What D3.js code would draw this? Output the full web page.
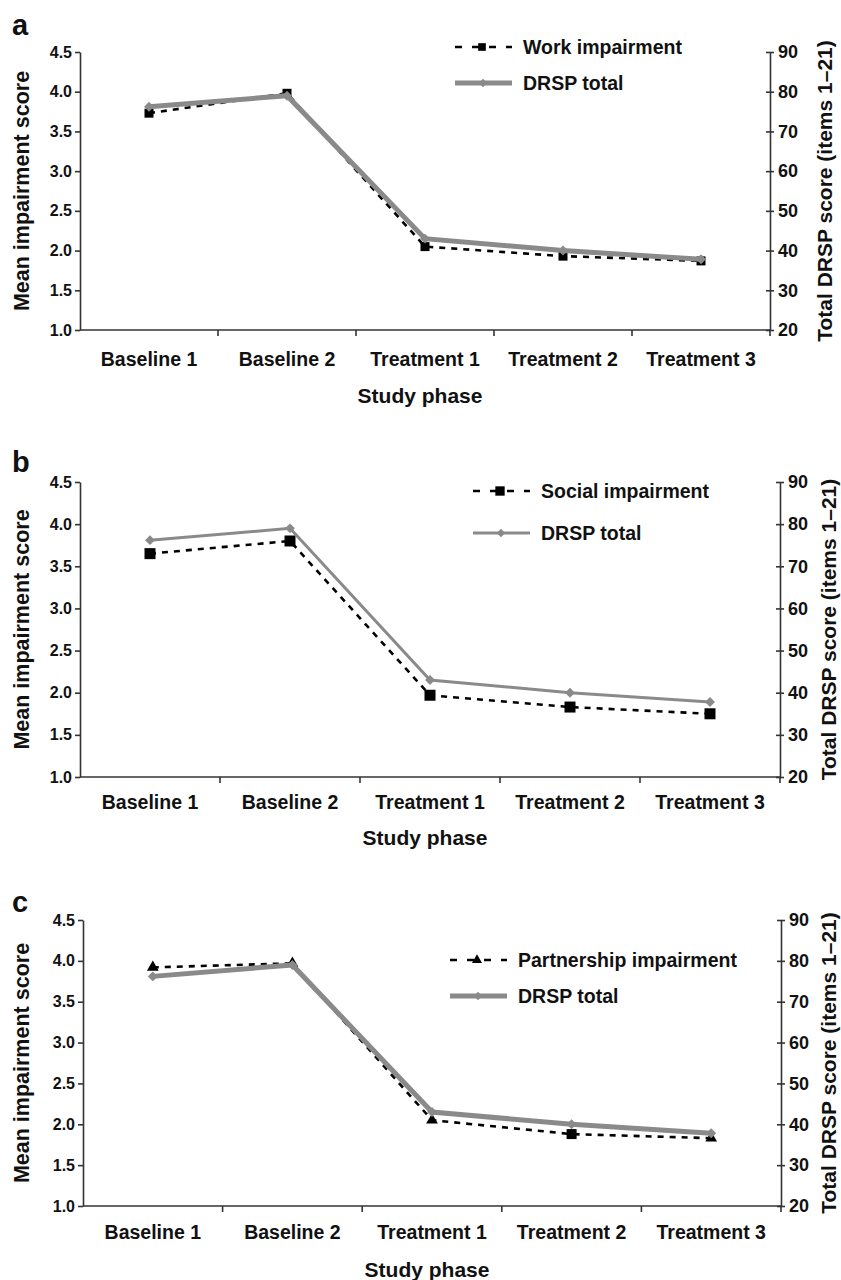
<!DOCTYPE html>
<html>
<head>
<meta charset="utf-8">
<script src="https://cdn.jsdelivr.net/npm/d3@7"></script>
<style>
  body { margin: 0; background: #fff; }
  svg text { font-family: "Liberation Sans", Arial, Helvetica, sans-serif; font-weight: bold; fill: #111; }
</style>
</head>
<body>
<div id="plt"></div>
<script>
// Values
const phases = ["Baseline 1", "Baseline 2", "Treatment 1", "Treatment 2", "Treatment 3"];
const workImpairment = [3.73, 3.98, 2.05, 1.93, 1.87];
const socialImpairment = [3.65, 3.80, 1.97, 1.83, 1.75];
const partnershipImpairment = [3.92, 3.97, 2.05, 1.88, 1.83];
const drspTotal = [76.2, 79.0, 43.0, 40.0, 37.8];
const leftTicks = [1.0, 1.5, 2.0, 2.5, 3.0, 3.5, 4.0, 4.5];
const rightTicks = [20, 30, 40, 50, 60, 70, 80, 90];
// partnership series has one square marker at Treatment 2 in the original
const partnershipMarkers = ["triangle", "triangle", "triangle", "square", "triangle"];

const W = 841, H = 1280;
const gray = "#8a8a8a";

const svg = d3.select("#plt")
    .append("svg")
    .attr("width", W)
    .attr("height", H);

// per panel layout
const panels = [
  { letter: "a", values: workImpairment, name: "Work impairment", marker: "square",
    left: 80, right: 770, top: 52, bottom: 330, letterY: 35, labelY: 352, titleY: 403, rightTitleX: 832,
    drspWidth: 5, markSize: 9, legendX: 455, legendY: 47, legendGap: 36 },
  { letter: "b", values: socialImpairment, name: "Social impairment", marker: "square",
    left: 80, right: 780, top: 482, bottom: 777, letterY: 472, labelY: 795, titleY: 845, rightTitleX: 836,
    drspWidth: 3, markSize: 11, legendX: 473, legendY: 491, legendGap: 42 },
  { letter: "c", values: partnershipImpairment, name: "Partnership impairment", marker: partnershipMarkers,
    left: 83, right: 781, top: 920, bottom: 1206, letterY: 912, labelY: 1225, titleY: 1277, rightTitleX: 836,
    drspWidth: 5, markSize: 10, legendX: 450, legendY: 960, legendGap: 36 }
];

function symbolFor(type, size) {
  if (type === "triangle") return d3.symbol().type(d3.symbolTriangle).size(size * size * 0.6)();
  return d3.symbol().type(d3.symbolSquare).size(size * size)();
}
const diamond = (s) => d3.symbol().type(d3.symbolSquare).size(s * s)();

panels.forEach(p => {
  const g = svg.append("g");

  const x = d3.scaleBand().domain(phases).range([p.left, p.right]);
  const y = d3.scaleLinear().domain([1, 4.5]).range([p.bottom, p.top]);
  const y2 = d3.scaleLinear().domain([20, 90]).range([p.bottom, p.top]);
  const cx = d => x(d) + x.bandwidth() / 2;

  // panel letter
  g.append("text")
      .attr("x", 12)
      .attr("y", p.letterY)
      .style("font-size", "29px")
      .text(p.letter);

  // left axis
  const ax = g.append("g")
      .attr("transform", `translate(${p.left},0)`)
      .call(d3.axisLeft(y).tickValues(leftTicks).tickFormat(d3.format(".1f"))
        .tickSize(5).tickSizeOuter(0).tickPadding(3));
  ax.selectAll("text").style("font-size", "16px");

  // right axis, ticks cross the line
  const ar = g.append("g")
      .attr("transform", `translate(${p.right},0)`)
      .call(d3.axisRight(y2).tickValues(rightTicks).tickSize(4).tickSizeOuter(0).tickPadding(4));
  ar.selectAll(".tick line").attr("x1", -4);
  ar.selectAll("text").style("font-size", "18px");

  // bottom axis: labels centred, ticks on category boundaries
  const ab = g.append("g")
      .attr("transform", `translate(0,${p.bottom})`)
      .call(d3.axisBottom(x).tickSize(0).tickPadding(p.labelY - p.bottom));
  ab.selectAll("text").style("font-size", "19.5px");
  ab.selectAll(".domain").remove();
  g.append("line")
      .attr("x1", p.left).attr("x2", p.right)
      .attr("y1", p.bottom).attr("y2", p.bottom);
  g.append("g").selectAll("line")
      .data(d3.range(phases.length))
      .enter().append("line")
      .attr("x1", i => x.range()[0] + x.step() * (i + 1))
      .attr("x2", i => x.range()[0] + x.step() * (i + 1))
      .attr("y1", p.bottom)
      .attr("y2", p.bottom + 6);

  g.selectAll(".domain, .tick line, line")
      .attr("stroke", "#333")
      .attr("stroke-width", 1.6);

  // axis titles
  g.append("text")
      .attr("text-anchor", "middle")
      .attr("x", (p.left + p.right) / 2 - 5)
      .attr("y", p.titleY)
      .style("font-size", "21px")
      .text("Study phase");
  g.append("text")
      .attr("text-anchor", "middle")
      .attr("transform", `translate(29,${(p.top + p.bottom) / 2}) rotate(-90)`)
      .style("font-size", "21.5px")
      .text("Mean impairment score");
  g.append("text")
      .attr("text-anchor", "middle")
      .attr("transform", `translate(${p.rightTitleX},${(p.top + p.bottom) / 2}) rotate(-90)`)
      .style("font-size", "21px")
      .text("Total DRSP score (items 1\u201321)");

  // impairment series (dashed black)
  const line = d3.line().x((d, i) => cx(phases[i])).y(d => y(d));
  g.append("path")
      .datum(p.values)
      .attr("d", line)
      .attr("fill", "none")
      .attr("stroke", "#000")
      .attr("stroke-width", 2.6)
      .attr("stroke-dasharray", "6,6");
  g.append("g").selectAll("path")
      .data(p.values)
      .enter().append("path")
      .attr("transform", (d, i) => `translate(${cx(phases[i])},${y(d)})`)
      .attr("d", (d, i) => symbolFor(Array.isArray(p.marker) ? p.marker[i] : p.marker, p.markSize))
      .attr("fill", "#000");

  // DRSP total (grey, right axis)
  const line2 = d3.line().x((d, i) => cx(phases[i])).y(d => y2(d));
  g.append("path")
      .datum(drspTotal)
      .attr("d", line2)
      .attr("fill", "none")
      .attr("stroke", gray)
      .attr("stroke-width", p.drspWidth);
  g.append("g").selectAll("path")
      .data(drspTotal)
      .enter().append("path")
      .attr("transform", (d, i) => `translate(${cx(phases[i])},${y2(d)}) rotate(45)`)
      .attr("d", diamond(7))
      .attr("fill", gray);

  // legend
  const lg = g.append("g").attr("transform", `translate(${p.legendX},${p.legendY})`);
  lg.append("line")
      .attr("x1", 0).attr("x2", 57).attr("y1", 0).attr("y2", 0)
      .attr("stroke", "#000").attr("stroke-width", 2.6)
      .attr("stroke-dasharray", "7,10");
  lg.append("path")
      .attr("transform", "translate(27,0)")
      .attr("d", symbolFor(Array.isArray(p.marker) ? p.marker[0] : p.marker, p.markSize * 0.85))
      .attr("fill", "#000");
  lg.append("text")
      .attr("x", 68).attr("y", 7)
      .style("font-size", "19.5px")
      .text(p.name);
  lg.append("line")
      .attr("x1", 0).attr("x2", 57).attr("y1", p.legendGap).attr("y2", p.legendGap)
      .attr("stroke", gray).attr("stroke-width", p.drspWidth);
  lg.append("path")
      .attr("transform", `translate(28,${p.legendGap}) rotate(45)`)
      .attr("d", diamond(6))
      .attr("fill", gray);
  lg.append("text")
      .attr("x", 68).attr("y", p.legendGap + 7)
      .style("font-size", "19.5px")
      .text("DRSP total");
});
</script>
</body>
</html>
